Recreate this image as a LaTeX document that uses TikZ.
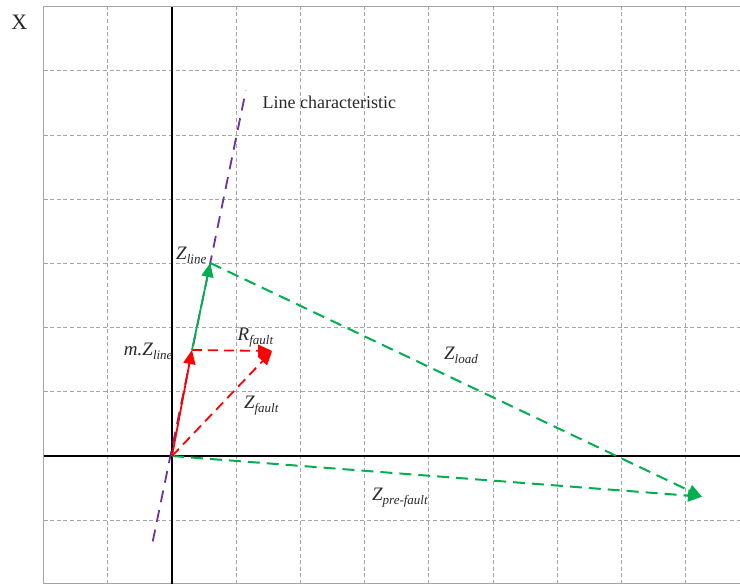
\documentclass[tikz,border=0pt]{standalone}
\usepackage{fontspec}
\setmainfont{Liberation Serif}
\usetikzlibrary{arrows.meta}
\definecolor{grn}{RGB}{0,176,80}
\definecolor{prp}{RGB}{112,48,160}
\definecolor{grd}{RGB}{165,165,165}
\definecolor{txt}{RGB}{40,40,40}
\begin{document}
\begin{tikzpicture}[x=32.1pt,y=32.1pt,
  gridline/.style={grd,line width=0.5pt,dash pattern=on 2pt off 1.3pt},
  border/.style={grd,line width=0.8pt},
  axisline/.style={black,line width=1pt},
  charline/.style={prp,line width=0.9pt,dash pattern=on 6pt off 4pt},
  tip/.style={-{Triangle[length=7pt,width=6pt]}},
  gsolid/.style={grn,line width=0.9pt,tip},
  gdash/.style={grn,line width=1pt,dash pattern=on 6pt off 3.5pt,tip},
  rsolid/.style={red,line width=0.9pt,tip},
  rdash/.style={red,line width=0.9pt,dash pattern=on 5pt off 3pt,tip},
  lbl/.style={font=\fontsize{9}{10}\selectfont,inner sep=0pt,text=txt},
  zlbl/.style={font=\fontsize{9.5}{10}\selectfont\itshape,inner sep=0pt,text=txt}]
\newcommand{\zsub}[2]{#1\raisebox{-0.45ex}{\fontsize{6.5}{7}\selectfont #2}}
\useasboundingbox (-2.679,-1.994) rectangle (8.847,7.103);
% grid
\foreach \gx in {-1,1,2,...,8} \draw[gridline] (\gx,-1.994) -- (\gx,7);
\foreach \gy in {-1,1,2,...,6} \draw[gridline] (-2,\gy) -- (8.847,\gy);
\draw[border] (8.847,7) -- (-2,7) -- (-2,-1.994);
\draw[border] (-2,-1.985) -- (8.847,-1.985);
% axes
\draw[axisline] (0,-1.994) -- (0,7);
\draw[axisline] (-2,0) -- (8.847,0);
\node[font=\fontsize{11}{12}\selectfont,inner sep=0pt,text=txt] (xl) at (-2.38,6.76) {X};
% points
\coordinate (O) at (0,0);
\coordinate (M) at (0.311,1.651);
\coordinate (L) at (0.597,3.006);
\coordinate (F) at (1.56,1.636);
\coordinate (P) at (8.255,-0.633);
\coordinate (C1) at (-0.30,-1.33);
\coordinate (C2) at (1.15,5.69);
% line characteristic
\draw[charline] (C1) -- (C2);
% vectors
\draw[gdash] (O) -- (P);
\draw[gdash] (L) -- (P);
\draw[rdash] (O) -- (F);
\draw[rdash] (M) -- (F);
\draw[gsolid] (M) -- (L);
\draw[rsolid] (O) -- (M);
% labels
\node[lbl] (lc) at (2.45,5.51) {Line characteristic};
\node[zlbl] (zl) at (0.30,3.12) {\zsub{Z}{line}};
\node[zlbl] (mz) at (-0.37,1.63) {\zsub{m.Z}{line}};
\node[zlbl] (rf) at (1.30,1.84) {\zsub{R}{fault}};
\node[zlbl] (zf) at (1.39,0.79) {\zsub{Z}{fault}};
\node[zlbl] (zd) at (4.50,1.57) {\zsub{Z}{load}};
\node[zlbl] (zp) at (3.55,-0.65) {\zsub{Z}{pre-fault}};
\end{tikzpicture}
\end{document}
